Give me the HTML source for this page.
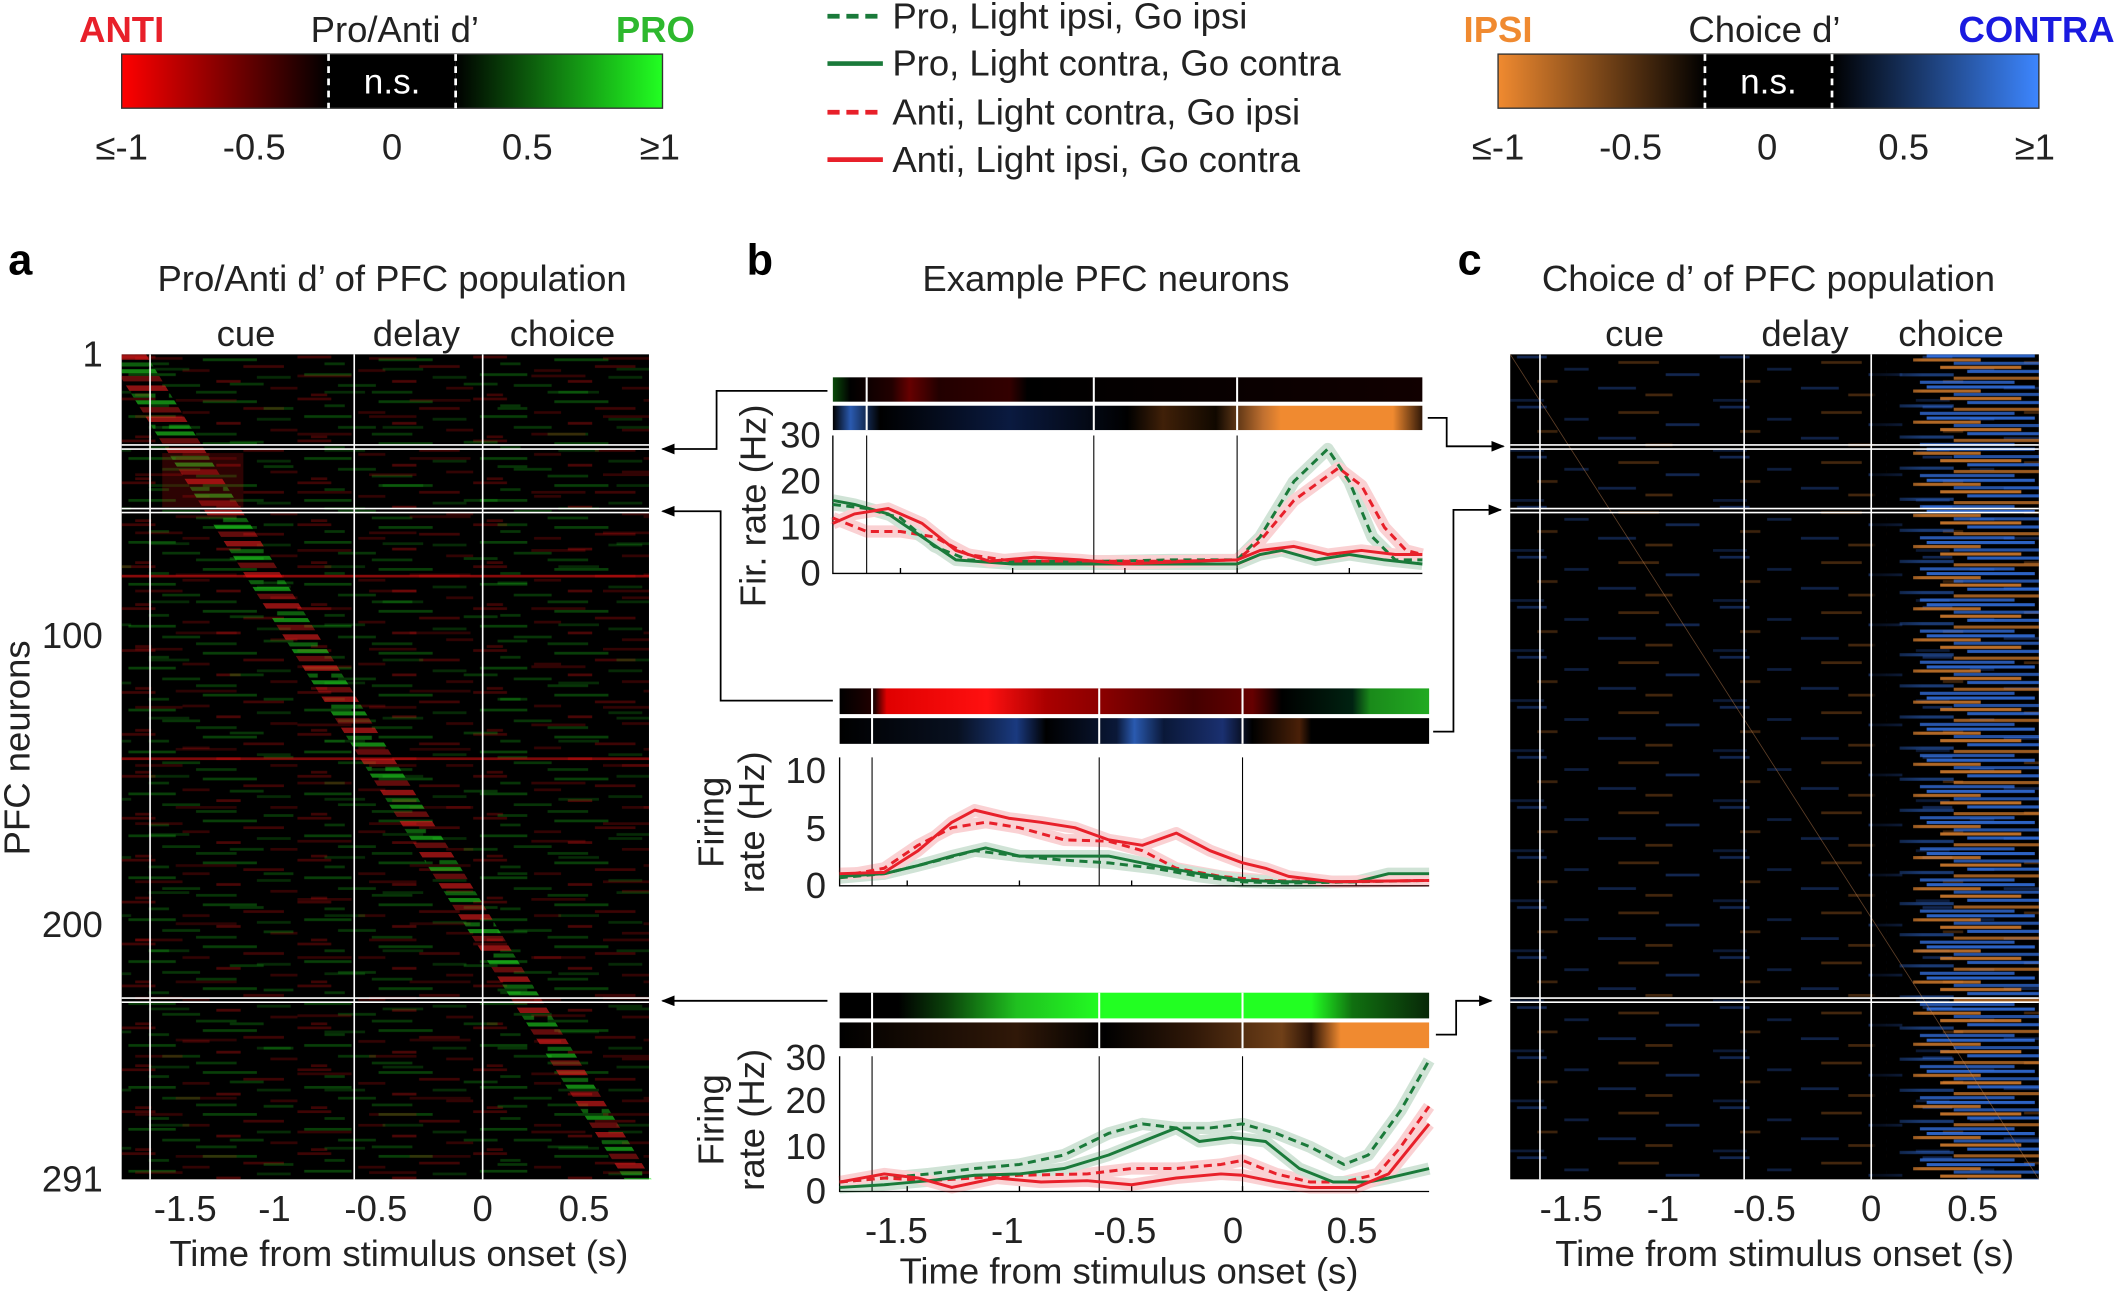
<!DOCTYPE html>
<html><head><meta charset="utf-8"><style>
html,body{margin:0;padding:0;background:#fff}
svg{display:block}
text{font-family:"Liberation Sans",Arial,sans-serif;fill:#222}
</style></head><body>
<svg xmlns="http://www.w3.org/2000/svg" width="2120" height="1297" viewBox="0 0 1568 959" preserveAspectRatio="none">
<defs>
<linearGradient id="gRed" x1="0" x2="1"><stop offset="0" stop-color="#ff0000"/><stop offset="1" stop-color="#000"/></linearGradient>
<linearGradient id="gGreen" x1="0" x2="1"><stop offset="0" stop-color="#000"/><stop offset="1" stop-color="#22ff22"/></linearGradient>
<linearGradient id="gOr" x1="0" x2="1"><stop offset="0" stop-color="#f08a30"/><stop offset="1" stop-color="#000"/></linearGradient>
<linearGradient id="gBl" x1="0" x2="1"><stop offset="0" stop-color="#000"/><stop offset="1" stop-color="#3d86ff"/></linearGradient>
<linearGradient id="b1a" x1="0" x2="1"><stop offset="0" stop-color="#0a4a0a"/><stop offset="0.03" stop-color="#000"/><stop offset="0.1" stop-color="#200"/><stop offset="0.13" stop-color="#600"/><stop offset="0.18" stop-color="#200"/><stop offset="0.3" stop-color="#300"/><stop offset="0.33" stop-color="#000"/><stop offset="1" stop-color="#100"/></linearGradient>
<linearGradient id="b1b" x1="0" x2="1"><stop offset="0" stop-color="#000"/><stop offset="0.03" stop-color="#2a5ab0"/><stop offset="0.08" stop-color="#000"/><stop offset="0.3" stop-color="#0a1a40"/><stop offset="0.5" stop-color="#000"/><stop offset="0.56" stop-color="#402008"/><stop offset="0.65" stop-color="#100800"/><stop offset="0.73" stop-color="#c07030"/><stop offset="0.76" stop-color="#f08a30"/><stop offset="0.95" stop-color="#f08a30"/><stop offset="1" stop-color="#301808"/></linearGradient>
<linearGradient id="b2a" x1="0" x2="1"><stop offset="0" stop-color="#000"/><stop offset="0.06" stop-color="#200"/><stop offset="0.08" stop-color="#e00000"/><stop offset="0.25" stop-color="#ff1010"/><stop offset="0.35" stop-color="#a00"/><stop offset="0.45" stop-color="#800"/><stop offset="0.6" stop-color="#400"/><stop offset="0.7" stop-color="#600"/><stop offset="0.75" stop-color="#000"/><stop offset="0.87" stop-color="#021"/><stop offset="0.9" stop-color="#1a8a1a"/><stop offset="1" stop-color="#22aa22"/></linearGradient>
<linearGradient id="b2b" x1="0" x2="1"><stop offset="0" stop-color="#000"/><stop offset="0.2" stop-color="#081020"/><stop offset="0.3" stop-color="#1a3a80"/><stop offset="0.35" stop-color="#000"/><stop offset="0.47" stop-color="#0a1838"/><stop offset="0.5" stop-color="#2a5ab0"/><stop offset="0.55" stop-color="#0a1838"/><stop offset="0.65" stop-color="#1a3070"/><stop offset="0.7" stop-color="#000"/><stop offset="0.78" stop-color="#4a2008"/><stop offset="0.8" stop-color="#000"/><stop offset="1" stop-color="#000"/></linearGradient>
<linearGradient id="b3a" x1="0" x2="1"><stop offset="0" stop-color="#000"/><stop offset="0.1" stop-color="#000"/><stop offset="0.18" stop-color="#0a400a"/><stop offset="0.3" stop-color="#20c020"/><stop offset="0.45" stop-color="#22ff22"/><stop offset="0.8" stop-color="#22ff22"/><stop offset="0.87" stop-color="#107010"/><stop offset="1" stop-color="#082808"/></linearGradient>
<linearGradient id="b3b" x1="0" x2="1"><stop offset="0" stop-color="#000"/><stop offset="0.3" stop-color="#301808"/><stop offset="0.45" stop-color="#000"/><stop offset="0.6" stop-color="#301808"/><stop offset="0.75" stop-color="#704018"/><stop offset="0.8" stop-color="#2a1206"/><stop offset="0.85" stop-color="#f08a30"/><stop offset="1" stop-color="#f08a30"/></linearGradient>
<linearGradient id="cfade" x1="0" x2="1"><stop offset="0" stop-color="#000" stop-opacity=".75"/><stop offset="0.3" stop-color="#000" stop-opacity="0"/><stop offset="1" stop-color="#000" stop-opacity="0"/></linearGradient>
<marker id="ar" markerWidth="10" markerHeight="8" refX="9" refY="4" orient="auto" markerUnits="userSpaceOnUse"><path d="M0,0 L10,4 L0,8 Z" fill="#000"/></marker>

<pattern id="pa" patternUnits="userSpaceOnUse" x="90" y="262" width="130" height="31">
<rect x="0" y="1" width="25" height="2" fill="#e01010" opacity=".5"/>
<rect x="60" y="3" width="40" height="2" fill="#18c018" opacity=".6"/>
<rect x="20" y="6" width="15" height="2" fill="#18c018" opacity=".5"/>
<rect x="90" y="8" width="30" height="2" fill="#e01010" opacity=".5"/>
<rect x="45" y="11" width="20" height="2" fill="#e01010" opacity=".4"/>
<rect x="5" y="14" width="35" height="2" fill="#18c018" opacity=".6"/>
<rect x="100" y="16" width="25" height="2" fill="#18c018" opacity=".4"/>
<rect x="70" y="19" width="18" height="2" fill="#e01010" opacity=".6"/>
<rect x="30" y="22" width="28" height="2" fill="#18c018" opacity=".5"/>
<rect x="110" y="24" width="20" height="2" fill="#e01010" opacity=".4"/>
<rect x="55" y="27" width="30" height="2" fill="#18c018" opacity=".5"/>
<rect x="10" y="29" width="12" height="2" fill="#e01010" opacity=".5"/>
</pattern>
<pattern id="pa2" patternUnits="userSpaceOnUse" x="100" y="270" width="173" height="43">
<rect x="10" y="2" width="30" height="2" fill="#18c018" opacity=".4"/>
<rect x="120" y="7" width="40" height="2" fill="#e01010" opacity=".4"/>
<rect x="70" y="13" width="25" height="2" fill="#18c018" opacity=".5"/>
<rect x="140" y="19" width="30" height="2" fill="#18c018" opacity=".4"/>
<rect x="30" y="25" width="45" height="2" fill="#e01010" opacity=".35"/>
<rect x="95" y="31" width="22" height="2" fill="#18c018" opacity=".5"/>
<rect x="0" y="37" width="35" height="2" fill="#e01010" opacity=".4"/>
</pattern>
<pattern id="pdiag" patternUnits="userSpaceOnUse" x="0" y="262" width="40" height="23">
<rect x="0" y="0" width="40" height="4" fill="#ff2020"/>
<rect x="5" y="6" width="30" height="3" fill="#22ee22" opacity=".7"/>
<rect x="0" y="11" width="40" height="3" fill="#22ee22"/>
<rect x="0" y="16" width="40" height="4" fill="#ff2020" opacity=".7"/>
</pattern>
<pattern id="pc" patternUnits="userSpaceOnUse" x="1117" y="262" width="150" height="37">
<rect x="5" y="1" width="22" height="2" fill="#3a7bff" opacity=".45"/>
<rect x="80" y="5" width="30" height="2" fill="#f08a30" opacity=".4"/>
<rect x="40" y="10" width="18" height="2" fill="#3a7bff" opacity=".35"/>
<rect x="115" y="14" width="25" height="2" fill="#3a7bff" opacity=".45"/>
<rect x="20" y="19" width="15" height="2" fill="#f08a30" opacity=".35"/>
<rect x="65" y="24" width="28" height="2" fill="#3a7bff" opacity=".4"/>
<rect x="100" y="29" width="20" height="2" fill="#f08a30" opacity=".4"/>
<rect x="0" y="33" width="25" height="2" fill="#3a7bff" opacity=".3"/>
</pattern>
<pattern id="pd" patternUnits="userSpaceOnUse" x="1395" y="262" width="124" height="23">
<rect x="30" y="0" width="80" height="2.3" fill="#3a80ff" opacity=".85"/>
<rect x="20" y="3" width="50" height="2.3" fill="#f59035" opacity=".8"/>
<rect x="50" y="5.5" width="74" height="2.3" fill="#3a80ff" opacity=".7"/>
<rect x="40" y="8.5" width="60" height="2.3" fill="#f59035" opacity=".85"/>
<rect x="60" y="11.5" width="64" height="2.3" fill="#3a80ff" opacity=".8"/>
<rect x="10" y="14" width="40" height="2.3" fill="#3a80ff" opacity=".5"/>
<rect x="50" y="16.5" width="74" height="2.3" fill="#f59035" opacity=".7"/>
<rect x="25" y="19.5" width="70" height="2.3" fill="#3a80ff" opacity=".75"/>
</pattern>
</defs>

<!-- left colorbar -->
<g font-size="27">
<text x="90" y="31" font-weight="bold" style="fill:#e8202a" text-anchor="middle">ANTI</text>
<text x="292" y="31" text-anchor="middle">Pro/Anti d’</text>
<text x="514" y="31" font-weight="bold" style="fill:#2db82d" text-anchor="end">PRO</text>
</g>
<rect x="90" y="40" width="153" height="40" fill="url(#gRed)"/>
<rect x="243" y="40" width="94" height="40" fill="#000"/>
<rect x="337" y="40" width="153" height="40" fill="url(#gGreen)"/>
<rect x="90" y="40" width="400" height="40" fill="none" stroke="#333" stroke-width="1"/>
<line x1="243" y1="40" x2="243" y2="80" stroke="#fff" stroke-width="2" stroke-dasharray="5,4"/>
<line x1="337" y1="40" x2="337" y2="80" stroke="#fff" stroke-width="2" stroke-dasharray="5,4"/>
<text x="290" y="69" font-size="26" style="fill:#fff" text-anchor="middle">n.s.</text>
<g font-size="27" text-anchor="middle"><text x="90" y="118">≤-1</text><text x="188" y="118">-0.5</text><text x="290" y="118">0</text><text x="390" y="118">0.5</text><text x="488" y="118">≥1</text></g>

<!-- right colorbar -->
<g font-size="27">
<text x="1108" y="31" font-weight="bold" style="fill:#f08a30" text-anchor="middle">IPSI</text>
<text x="1305" y="31" text-anchor="middle">Choice d’</text>
<text x="1564" y="31" font-weight="bold" style="fill:#1a1ae0" text-anchor="end">CONTRA</text>
</g>
<rect x="1108" y="40" width="153" height="40" fill="url(#gOr)"/>
<rect x="1261" y="40" width="94" height="40" fill="#000"/>
<rect x="1355" y="40" width="153" height="40" fill="url(#gBl)"/>
<rect x="1108" y="40" width="400" height="40" fill="none" stroke="#333" stroke-width="1"/>
<line x1="1261" y1="40" x2="1261" y2="80" stroke="#fff" stroke-width="2" stroke-dasharray="5,4"/>
<line x1="1355" y1="40" x2="1355" y2="80" stroke="#fff" stroke-width="2" stroke-dasharray="5,4"/>
<text x="1308" y="69" font-size="26" style="fill:#fff" text-anchor="middle">n.s.</text>
<g font-size="27" text-anchor="middle"><text x="1108" y="118">≤-1</text><text x="1206" y="118">-0.5</text><text x="1307" y="118">0</text><text x="1408" y="118">0.5</text><text x="1505" y="118">≥1</text></g>

<!-- legend -->
<g stroke-width="3.5">
<line x1="612" y1="12" x2="653" y2="12" stroke="#1a7a3a" stroke-dasharray="9,5"/>
<line x1="612" y1="47" x2="653" y2="47" stroke="#1a7a3a"/>
<line x1="612" y1="83" x2="653" y2="83" stroke="#e8202a" stroke-dasharray="9,5"/>
<line x1="612" y1="118" x2="653" y2="118" stroke="#e8202a"/>
</g>
<g font-size="27"><text x="660" y="21">Pro, Light ipsi, Go ipsi</text><text x="660" y="56">Pro, Light contra, Go contra</text><text x="660" y="92">Anti, Light contra, Go ipsi</text><text x="660" y="127">Anti, Light ipsi, Go contra</text></g>

<!-- panel titles -->
<text x="15" y="203" font-size="32" font-weight="bold" style="fill:#000" text-anchor="middle">a</text>
<text x="562" y="203" font-size="32" font-weight="bold" style="fill:#000" text-anchor="middle">b</text>
<text x="1087" y="203" font-size="32" font-weight="bold" style="fill:#000" text-anchor="middle">c</text>
<g font-size="27" text-anchor="middle">
<text x="290" y="215">Pro/Anti d’ of PFC population</text>
<text x="818" y="215">Example PFC neurons</text>
<text x="1308" y="215">Choice d’ of PFC population</text>
<text x="182" y="256">cue</text><text x="308" y="256">delay</text><text x="416" y="256">choice</text>
<text x="1209" y="256">cue</text><text x="1335" y="256">delay</text><text x="1443" y="256">choice</text></g>

<!-- heatmap a -->
<rect x="90" y="262" width="390" height="610" fill="#000"/>
<rect x="90" y="262" width="390" height="610" fill="url(#pa)" opacity=".55"/>
<rect x="90" y="262" width="390" height="610" fill="url(#pa2)" opacity=".55"/>
<polygon points="90,262 108,262 482,872 462,872 90,280" fill="url(#pdiag)" opacity=".55"/>
<rect x="120" y="335" width="60" height="40" fill="#e01010" opacity=".2"/>
<rect x="90" y="425" width="390" height="2" fill="#e01010" opacity=".6"/>
<rect x="90" y="560" width="390" height="2" fill="#e01010" opacity=".55"/>
<!-- heatmap c -->
<rect x="1117" y="262" width="391" height="610" fill="#000"/>
<rect x="1117" y="262" width="391" height="610" fill="url(#pc)" opacity=".7"/>
<rect x="1395" y="262" width="113" height="610" fill="url(#pd)" opacity=".9"/>
<rect x="1385" y="262" width="123" height="610" fill="url(#cfade)"/>
<line x1="1117" y1="262" x2="1508" y2="872" stroke="#c08050" stroke-width=".6" opacity=".5"/>

<g stroke="#fff" stroke-width="1.2">
<line x1="111" y1="262" x2="111" y2="872"/><line x1="262" y1="262" x2="262" y2="872"/><line x1="357" y1="262" x2="357" y2="872"/>
<line x1="1139" y1="262" x2="1139" y2="872"/><line x1="1290" y1="262" x2="1290" y2="872"/><line x1="1384" y1="262" x2="1384" y2="872"/>
<line x1="90" y1="329" x2="480" y2="329"/><line x1="90" y1="332" x2="480" y2="332"/>
<line x1="90" y1="376" x2="480" y2="376"/><line x1="90" y1="379" x2="480" y2="379"/>
<line x1="90" y1="738" x2="480" y2="738"/><line x1="90" y1="741" x2="480" y2="741"/>
<line x1="1117" y1="329" x2="1508" y2="329"/><line x1="1117" y1="332" x2="1508" y2="332"/>
<line x1="1117" y1="376" x2="1508" y2="376"/><line x1="1117" y1="379" x2="1508" y2="379"/>
<line x1="1117" y1="738" x2="1508" y2="738"/><line x1="1117" y1="741" x2="1508" y2="741"/>
</g>

<!-- panel a axes text -->
<g font-size="27" text-anchor="end"><text x="76" y="271">1</text><text x="76" y="479">100</text><text x="76" y="693">200</text><text x="76" y="881">291</text></g>
<text transform="translate(22,553) rotate(-90)" font-size="27" text-anchor="middle">PFC neurons</text>
<g font-size="27" text-anchor="middle"><text x="137" y="903">-1.5</text><text x="203" y="903">-1</text><text x="278" y="903">-0.5</text><text x="357" y="903">0</text><text x="432" y="903">0.5</text>
<text x="295" y="936">Time from stimulus onset (s)</text>
<text x="1162" y="903">-1.5</text><text x="1230" y="903">-1</text><text x="1305" y="903">-0.5</text><text x="1384" y="903">0</text><text x="1459" y="903">0.5</text>
<text x="1320" y="936">Time from stimulus onset (s)</text></g>

<!-- panel b bars -->
<rect x="616" y="279" width="436" height="18" fill="url(#b1a)"/>
<rect x="616" y="300" width="436" height="18" fill="url(#b1b)"/>
<rect x="621" y="509" width="436" height="19" fill="url(#b2a)"/>
<rect x="621" y="531" width="436" height="19" fill="url(#b2b)"/>
<rect x="621" y="734" width="436" height="19" fill="url(#b3a)"/>
<rect x="621" y="756" width="436" height="19" fill="url(#b3b)"/>
<g stroke="#fff" stroke-width="1.5">
<line x1="641" y1="279" x2="641" y2="318"/><line x1="809" y1="279" x2="809" y2="318"/><line x1="915" y1="279" x2="915" y2="318"/>
<line x1="645" y1="509" x2="645" y2="550"/><line x1="813" y1="509" x2="813" y2="550"/><line x1="919" y1="509" x2="919" y2="550"/>
<line x1="645" y1="734" x2="645" y2="775"/><line x1="813" y1="734" x2="813" y2="775"/><line x1="919" y1="734" x2="919" y2="775"/>
</g>

<!-- plot axes -->
<g stroke="#000" stroke-width="1" fill="none">
<path d="M616,322 V424 H1052"/><path d="M641,322 V424 M809,322 V424 M915,322 V424" stroke-width=".8"/>
<path d="M666,424 v-4 M749,424 v-4 M832,424 v-4 M915,424 v-4 M998,424 v-4"/>
<path d="M621,560 V655 H1057"/><path d="M645,560 V655 M813,560 V655 M919,560 V655" stroke-width=".8"/>
<path d="M671,655 v-4 M754,655 v-4 M837,655 v-4 M919,655 v-4 M1003,655 v-4"/>
<path d="M621,781 V881 H1057"/><path d="M645,781 V881 M813,781 V881 M919,781 V881" stroke-width=".8"/>
<path d="M671,881 v-4 M754,881 v-4 M837,881 v-4 M919,881 v-4 M1003,881 v-4"/>
</g>

<!-- curves: bands -->
<g fill="none" stroke-width="9" stroke-linejoin="round" opacity=".2">
<polyline stroke="#1a7a3a" points="616,373 641,376 666,383 691,404 716,414 749,415 815,415 865,414 915,414 932,397 957,356 982,332 998,356 1015,397 1032,414 1052,414"/>
<polyline stroke="#e8202a" points="616,383 641,393 666,393 691,397 716,410 749,415 815,415 865,415 915,414 932,400 957,370 990,346 1007,359 1024,390 1040,407 1052,410"/>
<polyline stroke="#1a7a3a" points="616,370 632,373 657,380 682,397 707,414 749,417 882,417 915,417 932,410 948,407 973,414 998,410 1024,414 1052,417"/>
<polyline stroke="#e8202a" points="616,387 632,380 657,376 682,387 707,407 732,415 765,412 799,414 832,417 882,415 915,414 932,407 957,404 982,410 1007,407 1032,410 1052,410"/>
<polyline stroke="#1a7a3a" points="621,649 654,646 687,638 721,629 754,633 787,636 820,638 854,642 887,648 919,652 953,653 1003,652 1057,651"/>
<polyline stroke="#e8202a" points="621,648 654,642 679,625 704,612 729,608 754,612 787,621 820,622 845,629 870,642 903,648 936,651 986,652 1057,651"/>
<polyline stroke="#1a7a3a" points="621,648 654,646 679,640 704,633 729,627 754,633 787,633 820,633 854,640 887,646 919,651 953,652 1003,652 1027,646 1057,646"/>
<polyline stroke="#e8202a" points="621,646 654,645 679,629 704,608 721,599 746,605 770,608 795,612 820,621 845,625 870,616 895,629 919,638 936,642 953,648 986,652 1057,651"/>
<polyline stroke="#1a7a3a" points="621,874 654,871 687,868 721,864 754,861 787,854 820,838 845,831 870,834 895,834 919,831 944,838 969,848 994,861 1012,854 1036,821 1057,784"/>
<polyline stroke="#e8202a" points="621,874 654,871 687,873 721,871 754,869 804,868 837,864 870,864 903,861 919,858 944,868 969,874 994,874 1019,868 1036,848 1057,818"/>
<polyline stroke="#1a7a3a" points="621,878 654,876 687,873 721,869 754,868 787,864 820,854 845,844 870,834 887,844 911,841 936,844 961,864 986,874 1012,874 1027,871 1057,864"/>
<polyline stroke="#e8202a" points="621,874 654,868 679,871 704,878 737,871 770,874 804,873 837,876 870,871 903,868 919,869 944,874 969,878 1003,878 1027,868 1057,831"/>
</g>
<!-- curves: lines -->
<g fill="none" stroke-width="2.2" stroke-linejoin="round">
<polyline stroke="#1a7a3a" stroke-dasharray="6,4" points="616,373 641,376 666,383 691,404 716,414 749,415 815,415 865,414 915,414 932,397 957,356 982,332 998,356 1015,397 1032,414 1052,414"/>
<polyline stroke="#e8202a" stroke-dasharray="6,4" points="616,383 641,393 666,393 691,397 716,410 749,415 815,415 865,415 915,414 932,400 957,370 990,346 1007,359 1024,390 1040,407 1052,410"/>
<polyline stroke="#1a7a3a" points="616,370 632,373 657,380 682,397 707,414 749,417 882,417 915,417 932,410 948,407 973,414 998,410 1024,414 1052,417"/>
<polyline stroke="#e8202a" points="616,387 632,380 657,376 682,387 707,407 732,415 765,412 799,414 832,417 882,415 915,414 932,407 957,404 982,410 1007,407 1032,410 1052,410"/>
<polyline stroke="#1a7a3a" stroke-dasharray="6,4" points="621,649 654,646 687,638 721,629 754,633 787,636 820,638 854,642 887,648 919,652 953,653 1003,652 1057,651"/>
<polyline stroke="#e8202a" stroke-dasharray="6,4" points="621,648 654,642 679,625 704,612 729,608 754,612 787,621 820,622 845,629 870,642 903,648 936,651 986,652 1057,651"/>
<polyline stroke="#1a7a3a" points="621,648 654,646 679,640 704,633 729,627 754,633 787,633 820,633 854,640 887,646 919,651 953,652 1003,652 1027,646 1057,646"/>
<polyline stroke="#e8202a" points="621,646 654,645 679,629 704,608 721,599 746,605 770,608 795,612 820,621 845,625 870,616 895,629 919,638 936,642 953,648 986,652 1057,651"/>
<polyline stroke="#1a7a3a" stroke-dasharray="6,4" points="621,874 654,871 687,868 721,864 754,861 787,854 820,838 845,831 870,834 895,834 919,831 944,838 969,848 994,861 1012,854 1036,821 1057,784"/>
<polyline stroke="#e8202a" stroke-dasharray="6,4" points="621,874 654,871 687,873 721,871 754,869 804,868 837,864 870,864 903,861 919,858 944,868 969,874 994,874 1019,868 1036,848 1057,818"/>
<polyline stroke="#1a7a3a" points="621,878 654,876 687,873 721,869 754,868 787,864 820,854 845,844 870,834 887,844 911,841 936,844 961,864 986,874 1012,874 1027,871 1057,864"/>
<polyline stroke="#e8202a" points="621,874 654,868 679,871 704,878 737,871 770,874 804,873 837,876 870,871 903,868 919,869 944,874 969,878 1003,878 1027,868 1057,831"/>
</g>

<!-- arrows -->
<g stroke="#000" stroke-width="1.3" fill="none">
<polyline points="612,289 530,289 530,332 490,332" marker-end="url(#ar)"/>
<polyline points="616,518 533,518 533,378 490,378" marker-end="url(#ar)"/>
<polyline points="612,740 490,740" marker-end="url(#ar)"/>
<polyline points="1056,309 1070,309 1070,330 1112,330" marker-end="url(#ar)"/>
<polyline points="1060,541 1075,541 1075,377 1110,377" marker-end="url(#ar)"/>
<polyline points="1062,765 1077,765 1077,740 1103,740" marker-end="url(#ar)"/>
</g>

<!-- panel b text -->
<g font-size="27" text-anchor="end">
<text x="607" y="331">30</text><text x="607" y="365">20</text><text x="607" y="399">10</text><text x="607" y="433">0</text>
<text x="611" y="579">10</text><text x="611" y="622">5</text><text x="611" y="664">0</text>
<text x="611" y="791">30</text><text x="611" y="823">20</text><text x="611" y="857">10</text><text x="611" y="890">0</text>
</g>
<g font-size="27" text-anchor="middle">
<text transform="translate(566,374) rotate(-90)">Fir. rate (Hz)</text>
<text transform="translate(535,608) rotate(-90)">Firing</text>
<text transform="translate(565,608) rotate(-90)">rate (Hz)</text>
<text transform="translate(535,828) rotate(-90)">Firing</text>
<text transform="translate(565,828) rotate(-90)">rate (Hz)</text>
<text x="663" y="919">-1.5</text><text x="745" y="919">-1</text><text x="832" y="919">-0.5</text><text x="912" y="919">0</text><text x="1000" y="919">0.5</text>
<text x="835" y="949">Time from stimulus onset (s)</text></g>
</svg>
</body></html>
